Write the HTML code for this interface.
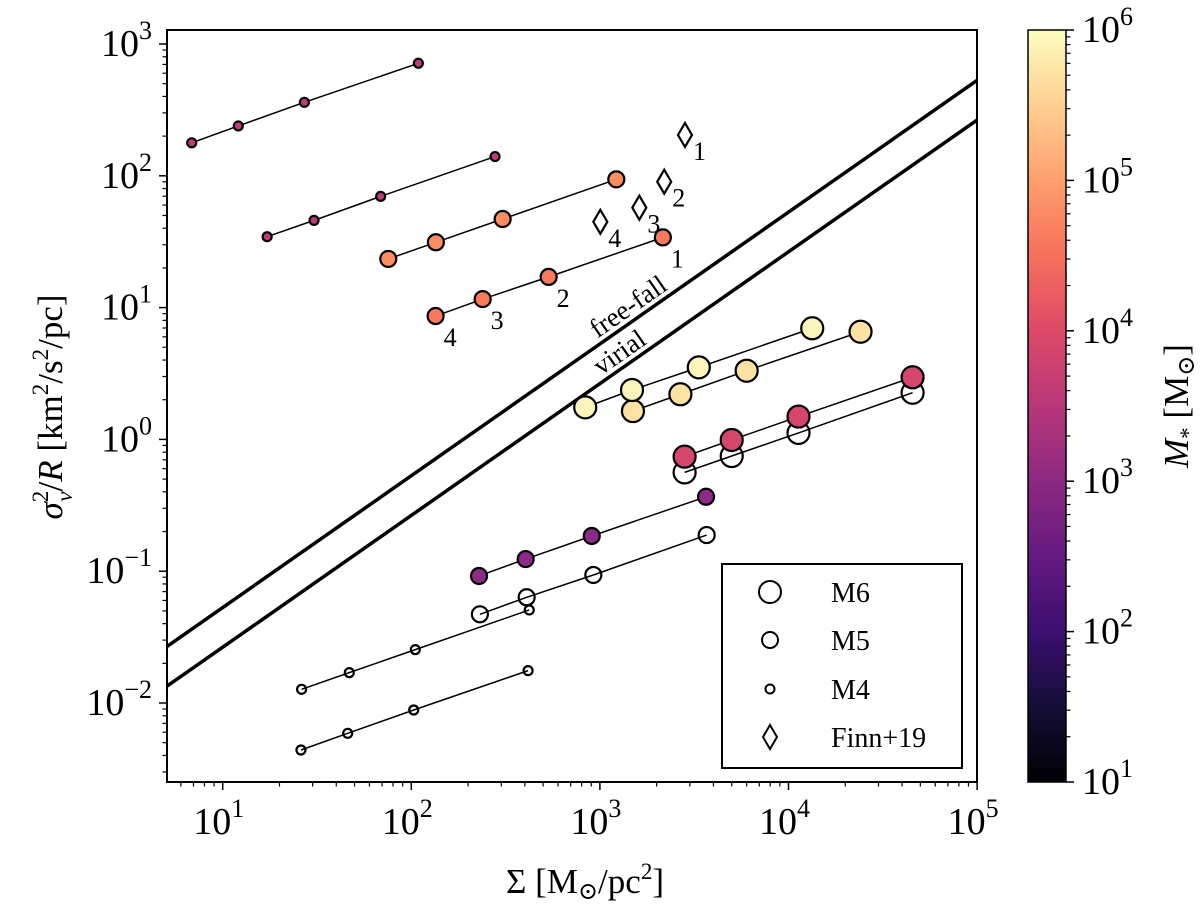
<!DOCTYPE html>
<html><head><meta charset="utf-8"><style>
html,body{margin:0;padding:0;background:#fff;}
svg{display:block;font-family:"Liberation Serif","DejaVu Serif",serif;}
</style></head><body>
<svg id="chart" width="1200" height="908" viewBox="0 0 1200 908" xmlns="http://www.w3.org/2000/svg">
<defs>
<linearGradient id="magma" x1="0" y1="1" x2="0" y2="0">
<stop offset="0" stop-color="#000004"/><stop offset="0.1" stop-color="#140e36"/><stop offset="0.2" stop-color="#3b0f70"/><stop offset="0.3" stop-color="#641a80"/><stop offset="0.4" stop-color="#8c2981"/><stop offset="0.5" stop-color="#b73779"/><stop offset="0.6" stop-color="#de4968"/><stop offset="0.7" stop-color="#f7705c"/><stop offset="0.8" stop-color="#fe9f6d"/><stop offset="0.9" stop-color="#fecf92"/><stop offset="1" stop-color="#fcfdbf"/>
</linearGradient>
<clipPath id="plotclip"><rect x="167" y="30" width="810" height="752"/></clipPath>
</defs>
<g id="plot" clip-path="url(#plotclip)"></g>
<g id="axes"></g>
<rect x="167" y="30" width="810" height="752" fill="none" stroke="#000" stroke-width="2"/>
<g>
<rect x="722" y="564" width="240" height="204" fill="#fff" stroke="#000" stroke-width="2"/>
<circle cx="770" cy="592" r="11" fill="none" stroke="#000" stroke-width="2"/>
<text x="831" y="602" font-size="28">M6</text>
<circle cx="770" cy="640" r="8" fill="none" stroke="#000" stroke-width="2"/>
<text x="831" y="650" font-size="28">M5</text>
<circle cx="770" cy="689" r="4.5" fill="none" stroke="#000" stroke-width="2"/>
<text x="831" y="699" font-size="28">M4</text>
<path d="M770 725 L777 737 L770 749 L763 737 Z" fill="none" stroke="#000" stroke-width="2"/>
<text x="831" y="747" font-size="28">Finn+19</text>
</g>
<text x="585" y="893" font-size="35" text-anchor="middle">Σ [M<tspan font-size="24" dy="6">⊙</tspan><tspan dy="-6">/pc</tspan><tspan font-size="23" dy="-14">2</tspan><tspan dy="14">]</tspan></text>
<text transform="translate(62,407) rotate(-90)" font-size="35" text-anchor="middle"><tspan font-style="italic">σ</tspan><tspan font-size="23" dy="-14">2</tspan><tspan font-size="23" font-style="italic" dx="-11" dy="24">v</tspan><tspan dy="-10">/</tspan><tspan font-style="italic">R</tspan> [km<tspan font-size="23" dy="-14">2</tspan><tspan dy="14">/s</tspan><tspan font-size="23" dy="-14">2</tspan><tspan dy="14">/pc]</tspan></text>
<rect x="1028" y="30" width="38" height="752" fill="url(#magma)" stroke="#000" stroke-width="1.5"/>
<g id="cbaxis"></g>
<text transform="translate(1188,406) rotate(-90)" font-size="35" text-anchor="middle"><tspan font-style="italic">M</tspan><tspan font-size="23" dy="8">*</tspan><tspan dy="-8"> [M</tspan><tspan font-size="24" dy="6">⊙</tspan><tspan dy="-6">]</tspan></text>
</svg>
<script>
// ---- data ----
const xTicks = [1, 2, 3, 4, 5];
const yTicks = [-2, -1, 0, 1, 2, 3];
const cbTicks = [1, 2, 3, 4, 5, 6];

const m4aX = [6.85, 12.1, 27.1, 109];
const m4aY = [178, 239, 361, 714];
const m4bX = [17.2, 30.5, 68.8, 278];
const m4bY = [34.5, 45.9, 69.8, 140];
const m5aX = [75.5, 135, 305, 1222];
const m5aY = [23.4, 31.3, 47, 94];
const m5bX = [134.5, 239, 535, 2157];
const m5bY = [8.63, 11.6, 17.1, 34.1];
const m5bLabels = ["4", "3", "2", "1"];
const finnX = [2825, 2193, 1618, 1005];
const finnY = [204, 90.2, 57.3, 44.8];
const finnLabels = ["1", "2", "3", "4"];
const m6aX = [836, 1480, 3345, 13360];
const m6aY = [1.75, 2.37, 3.52, 6.97];
const m6bX = [1497, 2672, 6000, 24100];
const m6bY = [1.64, 2.20, 3.32, 6.56];
const m6cX = [2813, 5000, 11300, 45500];
const m6cY = [0.74, 0.99, 1.49, 2.96];
const m6oY = [0.562, 0.748, 1.12, 2.26];
const m5cX = [228.6, 404, 905, 3654];
const m5cY = [0.092, 0.1236, 0.185, 0.367];
const m5oX = [231, 409, 923, 3682];
const m5oY = [0.0471, 0.0634, 0.0936, 0.188];
const m4cX = [26.2, 46.9, 105, 422];
const m4cY = [0.0127, 0.0170, 0.0254, 0.0508];
const m4dX = [26, 46, 103, 416];
const m4dY = [0.0044, 0.00589, 0.00885, 0.0176];
const freeFallCoef = [0.0053];
const virialCoef = [0.00265];

// ---- scales ----
const X0 = 222.7, XD = 188.6;
const Y0 = 44, YD = 131.8;
function sx(v){ return X0 + (Math.log10(v) - 1) * XD; }
function sy(v){ return Y0 + (3 - Math.log10(v)) * YD; }
const NS = "http://www.w3.org/2000/svg";
function mk(tag, attrs, parent){ const e = document.createElementNS(NS, tag); for (const k in attrs) e.setAttribute(k, attrs[k]); parent.appendChild(e); return e; }
const plotG = document.getElementById('plot');
const axesG = document.getElementById('axes');
const cbG = document.getElementById('cbaxis');

function relLine(coef, name){
  const xs = [3, 2e5];
  const l = mk('line', {x1: sx(xs[0]), y1: sy(coef*xs[0]), x2: sx(xs[1]), y2: sy(coef*xs[1]), stroke: '#000', 'stroke-width': 3.5}, plotG);
  
  
}
relLine(freeFallCoef[0], 'free-fall-line');
relLine(virialCoef[0], 'virial-line');
const ang = -Math.atan2(YD, XD) * 180 / Math.PI;
{
  const t = mk('text', {x: 0, y: 0, 'font-size': 27, 'text-anchor': 'middle', transform: `translate(${sx(1500)},${sy(freeFallCoef[0]*1500)-7}) rotate(${ang})`}, plotG);
  t.textContent = 'free-fall';
  
  
  const t2 = mk('text', {x: 0, y: 0, 'font-size': 27, 'text-anchor': 'middle', transform: `translate(${sx(1350)},${sy(virialCoef[0]*1350)-7}) rotate(${ang})`}, plotG);
  t2.textContent = 'virial';
  
  
}

function series(xs, ys, r, fill, name, labels){
  const pts = xs.map((x,i)=>sx(x)+','+sy(ys[i])).join(' ');
  const pl = mk('polyline', {points: pts, fill: 'none', stroke: '#000', 'stroke-width': 1.5}, plotG);
  
  
  xs.forEach((x,i)=>{
    const c = mk('circle', {cx: sx(x), cy: sy(ys[i]), r: r, fill: fill, stroke: '#000', 'stroke-width': 2.2}, plotG);
    
    
    if (labels){
      const t = mk('text', {x: sx(x)+8, y: sy(ys[i])+30, 'font-size': 26}, plotG);
      t.textContent = labels[i];
      
      
    }
  });
}
series(m4dX, m4dY, 4.5, 'none', 'm4-open-low');
series(m4cX, m4cY, 4.5, 'none', 'm4-open-high');
series(m5oX, m5oY, 8, 'none', 'm5-open');
series(m5cX, m5cY, 8, '#8c2a87', 'm5-purple');
series(m6cX, m6oY, 11, 'none', 'm6-open');
series(m6cX, m6cY, 11, '#d6456c', 'm6-pink');
series(m6bX, m6bY, 11, '#fde2a3', 'm6-peach');
series(m6aX, m6aY, 11, '#fcf5bb', 'm6-yellow');
series(m4aX, m4aY, 4.5, '#c13b7b', 'm4-magenta-top');
series(m4bX, m4bY, 4.5, '#c13b7b', 'm4-magenta-mid');
series(m5aX, m5aY, 8, '#fb8d62', 'm5-orange');
series(m5bX, m5bY, 8, '#f77a5c', 'm5-orange-numbered', m5bLabels);

finnX.forEach((x,i)=>{
  const cx = sx(x), cy = sy(finnY[i]);
  const d = mk('path', {d: `M${cx} ${cy-12} L${cx+7} ${cy} L${cx} ${cy+12} L${cx-7} ${cy} Z`, fill: '#fff', stroke: '#000', 'stroke-width': 2.2}, plotG);
  
  
  const t = mk('text', {x: cx+8, y: cy+25, 'font-size': 26}, plotG);
  t.textContent = finnLabels[i];
  
  
});

const pLeft = 167, pRight = 977, pTop = 30, pBottom = 782;
xTicks.forEach(p=>{
  const x = X0 + (p-1)*XD;
  mk('line', {x1: x, y1: pBottom, x2: x, y2: pBottom+8, stroke: '#000', 'stroke-width': 1.5}, axesG);
  const t = mk('text', {x: x-4, y: 834, 'font-size': 38, 'text-anchor': 'middle'}, axesG);
  t.innerHTML = `10<tspan font-size="26" dy="-17">${p}</tspan>`;
  
  
});
for (let p=0; p<5; p++) for (let k=2; k<10; k++){
  const x = X0 + (p-1 + Math.log10(k))*XD;
  if (x < pLeft || x > pRight) continue;
  mk('line', {x1: x, y1: pBottom, x2: x, y2: pBottom+4.5, stroke: '#000', 'stroke-width': 1.2}, axesG);
}
yTicks.forEach(p=>{
  const y = Y0 + (3-p)*YD;
  mk('line', {x1: pLeft, y1: y, x2: pLeft-8, y2: y, stroke: '#000', 'stroke-width': 1.5}, axesG);
  const t = mk('text', {x: 152, y: y+12, 'font-size': 38, 'text-anchor': 'end'}, axesG);
  t.innerHTML = p < 0 ? `10<tspan font-size="26" dy="-17">−${-p}</tspan>` : `10<tspan font-size="26" dy="-17">${p}</tspan>`;
  
  
});
for (let p=-3; p<4; p++) for (let k=2; k<10; k++){
  const y = Y0 + (3 - p - Math.log10(k))*YD;
  if (y < pTop || y > pBottom) continue;
  mk('line', {x1: pLeft, y1: y, x2: pLeft-4.5, y2: y, stroke: '#000', 'stroke-width': 1.2}, axesG);
}
const cbTop = 30, cbBot = 782, cbD = (cbBot-cbTop)/5;
cbTicks.forEach(p=>{
  const y = cbBot - (p-1)*cbD;
  mk('line', {x1: 1066, y1: y, x2: 1074, y2: y, stroke: '#000', 'stroke-width': 1.5}, cbG);
  const t = mk('text', {x: 1082, y: y+12, 'font-size': 38}, cbG);
  t.innerHTML = `10<tspan font-size="26" dy="-17">${p}</tspan>`;
  
  
});
for (let p=1; p<6; p++) for (let k=2; k<10; k++){
  const y = cbBot - (p-1 + Math.log10(k))*cbD;
  mk('line', {x1: 1066, y1: y, x2: 1070.5, y2: y, stroke: '#000', 'stroke-width': 1.2}, cbG);
}
</script>
</body></html>
